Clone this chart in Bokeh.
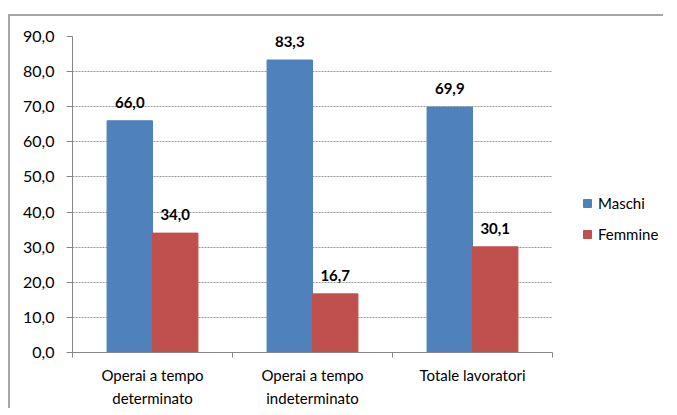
from bokeh.plotting import figure
from bokeh.models import (ColumnDataSource, Range1d, LinearAxis, Spacer,
                          FixedTicker, CustomJSTickFormatter, LabelSet, Legend, LegendItem, Grid)
from bokeh.layouts import column, row
from bokeh.core.properties import value
from bokeh.transform import dodge
from bokeh.embed import file_html
from bokeh.resources import INLINE

categories = ["Operai a tempo\ndeterminato", "Operai a tempo\nindeterminato", "Totale lavoratori"]
maschi = [66.0, 83.3, 69.9]
femmine = [34.0, 16.7, 30.1]
series_names = ["Maschi", "Femmine"]
y_ticks = [0, 10, 20, 30, 40, 50, 60, 70, 80, 90]

FONT = "Lato"
BLUE = "#4F81BD"
RED = "#C0504D"
AXIS = "#868686"

def fmt(v):
    return f"{v:.1f}".replace(".", ",")

n = len(categories)
centers = [i + 0.5 for i in range(n)]
bounds = list(range(n + 1))

src = ColumnDataSource(dict(
    x=centers,
    maschi=maschi,
    femmine=femmine,
    lm=[fmt(v) for v in maschi],
    lf=[fmt(v) for v in femmine],
))

# frame: plot area 480px for the categories, extended to the right to hold the legend
PLOT_W = 480
FRAME_W = 588
p = figure(width=655, height=394, x_range=Range1d(0, n * FRAME_W / PLOT_W),
           y_range=Range1d(0, 90), output_backend="svg", toolbar_location=None,
           x_axis_location=None, y_axis_location=None,
           min_border_left=62, min_border_right=5, min_border_top=20, min_border_bottom=58)
p.styles = {"border-top": "2px solid #a6a6a6", "border-left": "2px solid #a6a6a6"}
p.outline_line_color = None
p.xgrid.visible = False
p.ygrid.visible = False

ticker = FixedTicker(ticks=y_ticks)
yaxis = LinearAxis(ticker=ticker)
yaxis.formatter = CustomJSTickFormatter(code="return tick.toFixed(1).replace('.', ',');")
yaxis.axis_line_color = AXIS
yaxis.major_tick_line_color = AXIS
yaxis.major_tick_out = 6
yaxis.major_tick_in = 0
yaxis.minor_tick_line_color = None
yaxis.major_label_standoff = 12
yaxis.major_label_text_font = FONT
yaxis.major_label_text_font_size = "16px"
yaxis.major_label_text_color = "#000000"
p.add_layout(yaxis, "left")

grid = Grid(dimension=1, ticker=ticker, grid_line_color="#9a9a9a", grid_line_dash="2 1",
            grid_line_width=1, cross_bounds=(0, n))
p.add_layout(grid)

cat_axis = LinearAxis(ticker=FixedTicker(ticks=centers, minor_ticks=bounds),
                      major_label_overrides={c: lab for c, lab in zip(centers, categories)},
                      bounds=(0, n))
cat_axis.axis_line_color = AXIS
cat_axis.major_tick_line_color = None
cat_axis.major_tick_out = 0
cat_axis.major_tick_in = 0
cat_axis.minor_tick_line_color = AXIS
cat_axis.minor_tick_out = 5
cat_axis.minor_tick_in = 0
cat_axis.major_label_text_font = FONT
cat_axis.major_label_text_font_size = "15px"
cat_axis.major_label_text_color = "#000000"
cat_axis.major_label_standoff = 8
cat_axis.major_label_text_line_height = 1.3
p.add_layout(cat_axis, "below")

off = 0.142
bw = 0.284
rm = p.vbar(x=dodge("x", -off), top="maschi", width=bw, source=src,
            fill_color=BLUE, line_color=BLUE)
rf = p.vbar(x=dodge("x", off), top="femmine", width=bw, source=src,
            fill_color=RED, line_color=RED)

for col, txt, o in [("maschi", "lm", -off), ("femmine", "lf", off)]:
    ls = LabelSet(x=dodge("x", o), y=col, text=txt, source=src,
                  text_align="center", text_baseline="alphabetic", y_offset=13,
                  text_font=value(FONT), text_font_size=value("15px"), text_font_style="bold",
                  text_color="#000000")
    p.add_layout(ls)

legend = Legend(items=[LegendItem(label=series_names[0], renderers=[rm]),
                       LegendItem(label=series_names[1], renderers=[rf])],
                location=(510, 109), border_line_color=None, background_fill_alpha=0,
                padding=0, margin=0, spacing=13, glyph_width=10, glyph_height=10,
                label_height=10, label_standoff=6, label_text_font=FONT,
                label_text_font_size="15px", label_text_color="#000000")
p.add_layout(legend)

layout = column(Spacer(height=14), row(Spacer(width=8), p))
open("out.html", "w").write(file_html(layout, INLINE))
